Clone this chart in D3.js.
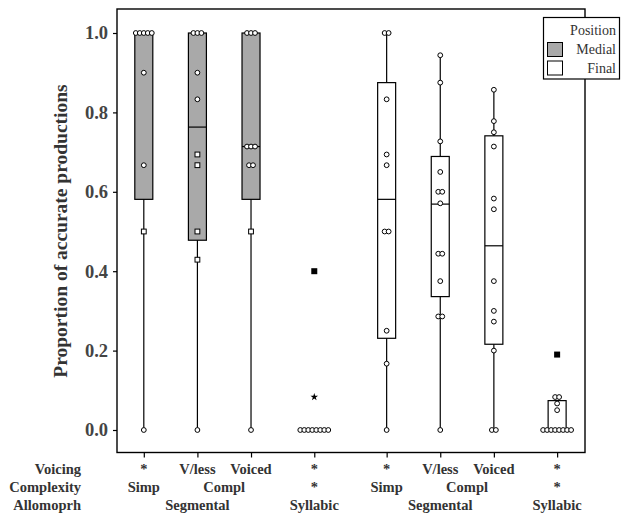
<!DOCTYPE html>
<html>
<head>
<meta charset="utf-8">
<script src="https://cdn.jsdelivr.net/npm/d3@7"></script>
<style>
  body { margin: 0; background: #fff; }
  svg { display: block; }
</style>
</head>
<body>
<svg id="chart" width="629" height="520"></svg>
<script>
// ---------- data ----------
const positions   = ["Medial","Medial","Medial","Medial","Final","Final","Final","Final"];
const allomorphs  = ["Segmental","Segmental","Segmental","Syllabic","Segmental","Segmental","Segmental","Syllabic"];
const complexity  = ["Simp","Compl","Compl","*","Simp","Compl","Compl","*"];
const voicing     = ["*","V/less","Voiced","*","*","V/less","Voiced","*"];

const q1Values      = [0.581, 0.478, 0.581, 0.0, 0.231, 0.336, 0.216, 0.0];
const medianValues  = [1.0,   0.763, 0.714, 0.0, 0.581, 0.569, 0.464, 0.0];
const q3Values      = [1.0,   1.0,   1.0,   0.0, 0.875, 0.689, 0.741, 0.074];
const whiskerLow    = [0.0,   0.0,   0.0,   0.0, 0.0,   0.0,   0.0,   0.0];
const whiskerHigh   = [1.0,   1.0,   1.0,   0.0, 1.0,   0.944, 0.857, 0.074];

// individual observations: [value, kind]  kind: c = circle, s = square, o = outlier, e = extreme
const pointValues = [
  [[1,"c"],[1,"c"],[1,"c"],[1,"c"],[1,"c"],[0.9,"c"],[0.667,"c"],[0.5,"s"],[0,"c"]],
  [[1,"c"],[1,"c"],[1,"c"],[0.9,"c"],[0.833,"c"],[0.694,"s"],[0.667,"s"],[0.5,"s"],[0.429,"s"],[0,"c"]],
  [[1,"c"],[1,"c"],[1,"c"],[0.714,"c"],[0.714,"c"],[0.714,"c"],[0.667,"c"],[0.667,"c"],[0.5,"s"],[0,"c"]],
  [[0.4,"o"],[0.083,"e"],[0,"c"],[0,"c"],[0,"c"],[0,"c"],[0,"c"],[0,"c"],[0,"c"],[0,"c"]],
  [[1,"c"],[1,"c"],[0.833,"c"],[0.694,"c"],[0.667,"c"],[0.5,"c"],[0.5,"c"],[0.25,"c"],[0.167,"c"],[0,"c"]],
  [[0.944,"c"],[0.875,"c"],[0.727,"c"],[0.65,"c"],[0.6,"c"],[0.6,"c"],[0.571,"c"],[0.444,"c"],[0.444,"c"],[0.375,"c"],[0.286,"c"],[0.286,"c"],[0,"c"]],
  [[0.857,"c"],[0.778,"c"],[0.75,"c"],[0.714,"c"],[0.583,"c"],[0.556,"c"],[0.375,"c"],[0.3,"c"],[0.273,"c"],[0.2,"c"],[0,"c"],[0,"c"]],
  [[0.19,"o"],[0.083,"c"],[0.083,"c"],[0.0667,"c"],[0.05,"c"],[0,"c"],[0,"c"],[0,"c"],[0,"c"],[0,"c"],[0,"c"],[0,"c"],[0,"c"]]
];

const yTicks = [0, 0.2, 0.4, 0.6, 0.8, 1.0];
const rowTitles = ["Voicing","Complexity","Allomoprh"];
const legendTitle = "Position";
const legendItems = ["Medial","Final"];
const yTitle = "Proportion of accurate productions";

// ---------- layout ----------
const svg = d3.select("#chart");
const frame = {left: 117, right: 585, top: 9, bottom: 452.5};
const serif = "'Liberation Serif','Times New Roman',serif";
const textColor = "#333";
const fillFor = {Medial: "#a9a9a9", Final: "#ffffff"};

// slot positions with gaps at allomorph and position changes
const slots = [];
let s = 0;
positions.forEach((p, i) => {
  if (i > 0) {
    s += 1;
    if (p !== positions[i-1]) s += 0.35;
    else if (allomorphs[i] !== allomorphs[i-1]) s += 0.18;
  }
  slots.push(s);
});

const x = d3.scaleLinear().domain([-0.5, 8.23]).range([frame.left, frame.right]);
const y = d3.scaleLinear().domain([0, 1]).range([430, 33]);
const boxW = 18;

const boxes = positions.map((p, i) => ({
  i, position: p, cx: x(slots[i]),
  q1: q1Values[i], med: medianValues[i], q3: q3Values[i],
  lo: whiskerLow[i], hi: whiskerHigh[i], pts: pointValues[i]
}));

// frame
svg.append("rect")
  .attr("x", frame.left).attr("y", frame.top)
  .attr("width", frame.right - frame.left).attr("height", frame.bottom - frame.top)
  .attr("fill", "none").attr("stroke", "#000").attr("stroke-width", 1.4);

// y axis
const yAxis = d3.axisLeft(y).tickValues(yTicks).tickFormat(d3.format(".1f")).tickSize(4).tickPadding(5);
const ya = svg.append("g").attr("transform", `translate(${frame.left},0)`).call(yAxis);
ya.select(".domain").remove();
ya.selectAll("line").attr("stroke", "#000").attr("stroke-width", 1.2);
ya.selectAll("text").attr("font-family", serif).attr("font-size", 18.5).attr("font-weight", "bold").attr("fill", "#444");

// x ticks
const xa = svg.append("g").attr("transform", `translate(0,${frame.bottom})`)
  .call(d3.axisBottom(x).tickValues(slots).tickSize(5).tickFormat(""));
xa.select(".domain").remove();
xa.selectAll("line").attr("stroke", "#000").attr("stroke-width", 1.2);

// y title
svg.append("text")
  .attr("transform", `translate(67,231) rotate(-90)`)
  .attr("text-anchor", "middle")
  .attr("font-family", serif).attr("font-size", 19.5).attr("font-weight", "bold")
  .attr("fill", textColor)
  .text(yTitle);

// boxes
const g = svg.append("g");
boxes.forEach(b => {
  g.append("line").attr("x1", b.cx).attr("x2", b.cx)
    .attr("y1", y(b.lo)).attr("y2", y(b.hi))
    .attr("stroke", "#000").attr("stroke-width", 1.2);
  g.append("rect")
    .attr("x", b.cx - boxW/2).attr("width", boxW)
    .attr("y", y(b.q3)).attr("height", Math.max(0.01, y(b.q1) - y(b.q3)))
    .attr("fill", fillFor[b.position]).attr("stroke", "#000").attr("stroke-width", 1.2);
  g.append("line").attr("x1", b.cx - boxW/2).attr("x2", b.cx + boxW/2)
    .attr("y1", y(b.med)).attr("y2", y(b.med))
    .attr("stroke", "#000").attr("stroke-width", 1.2);
});

// points, ties spread horizontally
const spacing = 4;
boxes.forEach(b => {
  const groups = d3.group(b.pts, d => d[0]);
  groups.forEach((arr, v) => {
    arr.forEach((d, k) => {
      const px = b.cx + (k - (arr.length - 1) / 2) * spacing;
      const py = y(v);
      const kind = d[1];
      if (kind === "c") {
        g.append("circle").attr("cx", px).attr("cy", py).attr("r", 2.4)
          .attr("fill", "#fff").attr("stroke", "#000").attr("stroke-width", 1);
      } else if (kind === "s") {
        g.append("rect").attr("x", px - 2.4).attr("y", py - 2.4).attr("width", 4.8).attr("height", 4.8)
          .attr("fill", "#fff").attr("stroke", "#000").attr("stroke-width", 1);
      } else if (kind === "o") {
        g.append("rect").attr("x", px - 3).attr("y", py - 3).attr("width", 6).attr("height", 6)
          .attr("fill", "#000");
      } else {
        g.append("path").attr("transform", `translate(${px},${py})`)
          .attr("d", d3.symbol(d3.symbolStar, 18)()).attr("fill", "#000");
      }
    });
  });
});

// bottom category labels
const rowBaselines = [474, 492, 510];
const rows = [voicing, complexity, allomorphs];
const labG = svg.append("g").attr("font-family", serif).attr("font-size", 14.5)
  .attr("font-weight", "bold").attr("fill", textColor).attr("text-anchor", "middle");
rowTitles.forEach((t, r) => {
  labG.append("text").attr("x", 81).attr("y", rowBaselines[r]).attr("text-anchor", "end").text(t);
});
rows.forEach((row, r) => {
  let start = 0;
  for (let i = 1; i <= row.length; i++) {
    const same = i < row.length && row[i] === row[start] && positions[i] === positions[start]
      && row[i] !== "*" && (r === 2 || allomorphs[i] === allomorphs[start]);
    if (!same) {
      const cx = (boxes[start].cx + boxes[i-1].cx) / 2;
      labG.append("text").attr("x", cx).attr("y", rowBaselines[r]).text(row[start]);
      start = i;
    }
  }
});

// legend
const lg = svg.append("g");
lg.append("rect").attr("x", 543.5).attr("y", 17.5).attr("width", 76).attr("height", 61.5)
  .attr("fill", "#fff").attr("stroke", "#000").attr("stroke-width", 1.2);
lg.append("text").attr("x", 616).attr("y", 35).attr("text-anchor", "end")
  .attr("font-family", serif).attr("font-size", 14).attr("fill", textColor).text(legendTitle);
legendItems.forEach((name, k) => {
  const yy = 42.5 + k * 18.5;
  lg.append("rect").attr("x", 547.5).attr("y", yy).attr("width", 15).attr("height", 14)
    .attr("fill", fillFor[name]).attr("stroke", "#000").attr("stroke-width", 1);
  lg.append("text").attr("x", 616).attr("y", yy + 11.5).attr("text-anchor", "end")
    .attr("font-family", serif).attr("font-size", 14).attr("fill", textColor).text(name);
});
</script>
</body>
</html>
